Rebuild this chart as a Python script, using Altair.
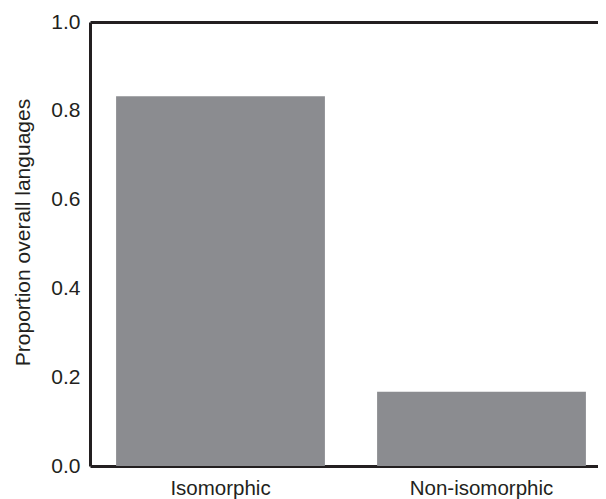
import altair as alt
import pandas as pd

categories = ["Isomorphic", "Non-isomorphic"]
proportions = [0.833, 0.167]

df = pd.DataFrame({"category": categories, "proportion": proportions})

FONT = "Liberation Sans"
DARK = "#231f20"

xscale = alt.Scale(domain=categories, range=[0, 522], paddingInner=0.2, paddingOuter=0.1)
yscale = alt.Scale(domain=[0, 1], nice=False)

bars = (
    alt.Chart(df)
    .mark_bar(color="#8b8c90")
    .encode(
        x=alt.X(
            "category:N",
            sort=categories,
            scale=xscale,
            axis=alt.Axis(
                title=None,
                labelAngle=0,
                domain=True,
                domainColor=DARK,
                domainWidth=3,
                ticks=False,
                labelPadding=12,
                labelFontSize=20.5,
                labelFont=FONT,
                labelColor=DARK,
            ),
        ),
        y=alt.Y(
            "proportion:Q",
            scale=yscale,
            axis=alt.Axis(
                title="Proportion overall languages",
                values=[0, 0.2, 0.4, 0.6, 0.8, 1.0],
                format=".1f",
                grid=False,
                domain=True,
                domainColor=DARK,
                domainWidth=3,
                ticks=False,
                labelPadding=10,
                labelFontSize=21,
                labelFont=FONT,
                labelColor=DARK,
                titleFontSize=21,
                titleFont=FONT,
                titleFontWeight="normal",
                titleColor=DARK,
                titlePadding=17,
                titleY=210,
            ),
        ),
    )
)

# top frame line drawn as a top-oriented axis domain (invisible marks)
top = (
    alt.Chart(df)
    .mark_bar(opacity=0)
    .encode(
        x=alt.X(
            "category:N",
            sort=categories,
            scale=xscale,
            axis=alt.Axis(
                orient="top",
                title=None,
                labels=False,
                ticks=False,
                domain=True,
                domainColor=DARK,
                domainWidth=3,
            ),
        ),
    )
)

chart = (
    alt.layer(bars, top)
    .resolve_axis(x="independent")
    .properties(
        width=508,
        height=444,
        autosize=alt.AutoSizeParams(type="none"),
        padding={"left": 82, "top": 14, "right": 0, "bottom": 33},
    )
    .configure_view(stroke=None)
)

chart.save("out.html", embed_options={"renderer": "svg", "actions": False})
